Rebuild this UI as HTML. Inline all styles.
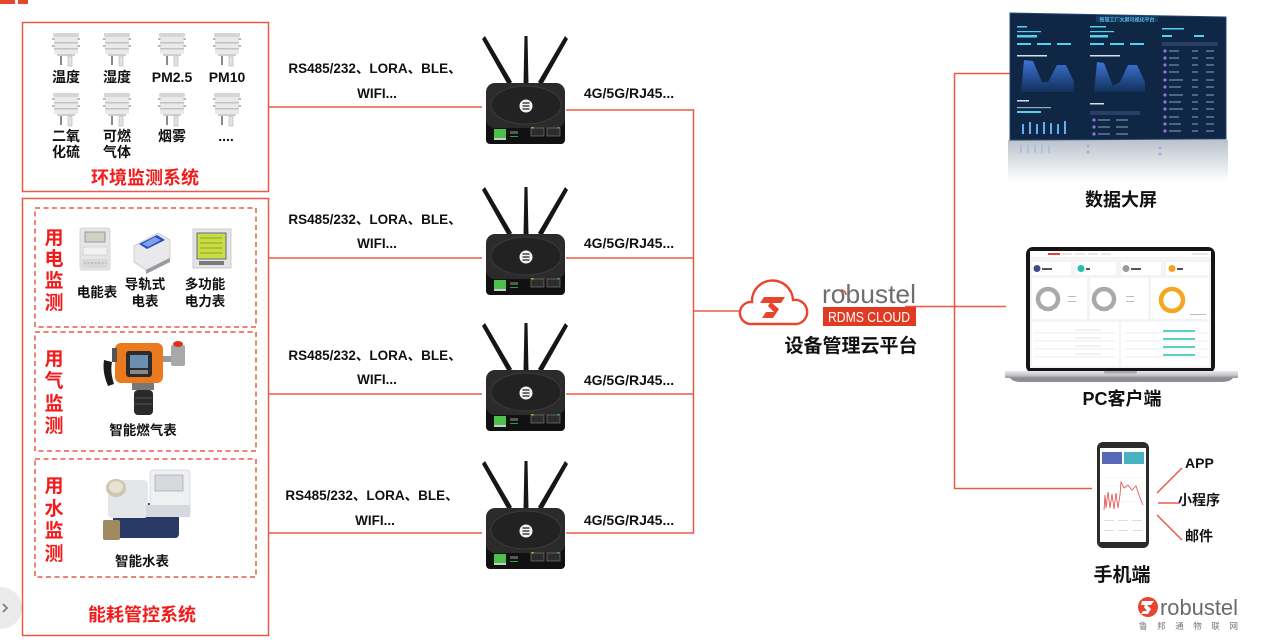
<!DOCTYPE html>
<html><head><meta charset="utf-8"><style>
html,body{margin:0;padding:0;background:#fff;width:1268px;height:640px;overflow:hidden;}
svg{display:block;}
text{font-family:"Liberation Sans","Noto Sans CJK SC",sans-serif;font-weight:bold;}
.k{fill:#111;font-size:14px;}
.r{fill:#f21a1a;font-size:18px;}
.v{fill:#f21a1a;font-size:19px;}
.lbl{fill:#111;font-size:13.5px;}
.big{fill:#111;font-size:18px;}
</style></head><body>
<svg width="1268" height="640" viewBox="0 0 1268 640" xmlns="http://www.w3.org/2000/svg">
<defs>
 <g id="sensor">
  <rect x="-13" y="0" width="26" height="4" rx="1" fill="#d6d6d6"/>
  <rect x="-12" y="4" width="24" height="17" fill="#e9e9e9"/>
  <rect x="-12" y="9" width="24" height="1.5" fill="#c2c2c2"/>
  <rect x="-12" y="15" width="24" height="1.5" fill="#c2c2c2"/>
  <rect x="-14" y="5" width="2.5" height="2" fill="#b8b8b8"/>
  <rect x="11.5" y="5" width="2.5" height="2" fill="#b8b8b8"/>
  <rect x="-14" y="12" width="2.5" height="2" fill="#b8b8b8"/>
  <rect x="11.5" y="12" width="2.5" height="2" fill="#b8b8b8"/>
  <rect x="-9" y="21" width="18" height="2" fill="#cfcfcf"/>
  <rect x="-6" y="23" width="2" height="9" fill="#8a8a8a"/>
  <rect x="2" y="23" width="4" height="10" fill="#e2e2e2" stroke="#b5b5b5" stroke-width="0.6"/>
 </g>
 <g id="router">
  <polygon points="0,3 3,0 30,46 26,49" fill="#161616"/>
  <polygon points="42.5,0 45.5,0 46.5,48 41.5,48" fill="#161616"/>
  <polygon points="83,0 86,3 60,49 56,46" fill="#161616"/>
  <rect x="4" y="80" width="79" height="28" rx="4" fill="#111"/>
  <rect x="4" y="47" width="79" height="45" rx="9" fill="#2b2b2b"/>
  <ellipse cx="44" cy="69" rx="35" ry="19" fill="#222" stroke="#3b3b3b" stroke-width="1"/>
  <circle cx="44" cy="70" r="6.5" fill="#f4f4f4"/>
  <path d="M40.5 67 h7 M40.5 70 h7 M40.5 73 h7" stroke="#222" stroke-width="1.2"/>
  <rect x="12" y="93" width="12" height="9" fill="#4cc04a"/>
  <rect x="12" y="102" width="12" height="2" fill="#ccc"/>
  <rect x="28" y="95" width="8" height="3" fill="#555"/>
  <rect x="28" y="100" width="8" height="1" fill="#3a9a3a"/>
  <rect x="49" y="92" width="13" height="8" fill="#2c2c2c" stroke="#777" stroke-width="0.7"/>
  <rect x="65" y="92" width="13" height="8" fill="#2c2c2c" stroke="#777" stroke-width="0.7"/>
  <rect x="49.5" y="91" width="2" height="1.5" fill="#d6c020"/>
  <rect x="75.5" y="91" width="2" height="1.5" fill="#3fc040"/>
 </g>
 <linearGradient id="refl" x1="0" y1="0" x2="0" y2="1">
  <stop offset="0" stop-color="#a9b3bf"/><stop offset="1" stop-color="#ffffff"/>
 </linearGradient>
 <linearGradient id="area" x1="0" y1="0" x2="0" y2="1">
  <stop offset="0" stop-color="#3d74d6"/><stop offset="1" stop-color="#11305a"/>
 </linearGradient>
 <linearGradient id="base" x1="0" y1="0" x2="0" y2="1">
  <stop offset="0" stop-color="#e8e8ea"/><stop offset="0.6" stop-color="#c5c6c9"/><stop offset="1" stop-color="#8e8f93"/>
 </linearGradient>
</defs>

<!-- top-left red mark -->
<rect x="0" y="0" width="15" height="4" fill="#e8452e"/>
<rect x="18" y="0" width="10" height="4" fill="#e8452e"/>

<!-- left gray nav circle -->
<circle cx="1" cy="608" r="21" fill="#ebebeb"/>
<path d="M3 604 l4 4 l-4 4" stroke="#777" stroke-width="1.6" fill="none"/>

<!-- env box -->
<rect x="22.5" y="22.5" width="246" height="169" fill="none" stroke="#e95b45" stroke-width="1.5"/>
<use href="#sensor" x="66" y="33"/>
<use href="#sensor" x="117" y="33"/>
<use href="#sensor" x="172" y="33"/>
<use href="#sensor" x="227" y="33"/>
<use href="#sensor" x="66" y="93"/>
<use href="#sensor" x="117" y="93"/>
<use href="#sensor" x="172" y="93"/>
<use href="#sensor" x="227" y="93"/>
<g class="k" text-anchor="middle">
 <text x="66" y="82">温度</text>
 <text x="117" y="82">湿度</text>
 <text x="172" y="82">PM2.5</text>
 <text x="227" y="82">PM10</text>
 <text x="66" y="141">二氧</text>
 <text x="66" y="157">化硫</text>
 <text x="117" y="141">可燃</text>
 <text x="117" y="157">气体</text>
 <text x="172" y="141">烟雾</text>
 <text x="226" y="141">....</text>
</g>
<text class="r" x="145" y="184" text-anchor="middle">环境监测系统</text>

<!-- energy box -->
<rect x="22.5" y="198.5" width="246" height="437" fill="none" stroke="#e95b45" stroke-width="1.5"/>
<g fill="none" stroke="#e95b45" stroke-width="1.5" stroke-dasharray="5,3.5">
 <rect x="35" y="208" width="221" height="119"/>
 <rect x="35" y="332" width="221" height="119"/>
 <rect x="35" y="459" width="221" height="118"/>
</g>
<g class="v" text-anchor="middle">
 <text x="54" y="244">用</text><text x="54" y="265">电</text><text x="54" y="287">监</text><text x="54" y="309">测</text>
 <text x="54" y="365">用</text><text x="54" y="387">气</text><text x="54" y="410">监</text><text x="54" y="432">测</text>
 <text x="54" y="492">用</text><text x="54" y="515">水</text><text x="54" y="537">监</text><text x="54" y="560">测</text>
</g>
<!-- electric meter -->
<rect x="80" y="228" width="30" height="42" rx="2" fill="#e6e6e6" stroke="#cfcfcf" stroke-width="0.8"/>
<rect x="85" y="232" width="20" height="10" fill="#cdd4c6" stroke="#8a8a8a" stroke-width="0.8"/>
<rect x="83" y="247" width="24" height="8" fill="#f2f2f2" stroke="#bbb" stroke-width="0.5"/>
<rect x="82" y="259" width="26" height="9" fill="#d8d8d8"/>
<path d="M84 263 h22" stroke="#aaa" stroke-width="1" stroke-dasharray="2,1.5"/>
<!-- rail meter -->
<polygon points="134,246 158,233 170,240 170,258 146,270 134,262" fill="#e9e9ec" stroke="#c8c8cc" stroke-width="0.8"/>
<polygon points="139,244 157,235 165,240 147,249" fill="#2a48c8"/>
<polygon points="142,244 155,237 161,240 148,247" fill="#7da0e8"/>
<polygon points="146,270 170,258 170,262 146,274" fill="#9a9aa0"/>
<!-- multifunction meter -->
<rect x="193" y="229" width="38" height="39" fill="#e4e4e4" stroke="#c4c4c4" stroke-width="0.8"/>
<rect x="197" y="233" width="29" height="26" fill="#c9dc40" stroke="#5a6a9a" stroke-width="1"/>
<path d="M200 238 h22 M200 243 h22 M200 248 h22 M200 253 h22" stroke="#7a8a30" stroke-width="0.8"/>
<rect x="199" y="261" width="25" height="4" fill="#7a7a7a"/>
<g class="lbl" text-anchor="middle">
 <text x="97" y="297">电能表</text>
 <text x="145" y="289">导轨式</text>
 <text x="145" y="306">电表</text>
 <text x="205" y="289">多功能</text>
 <text x="205" y="306">电力表</text>
 <text x="143" y="435">智能燃气表</text>
 <text x="142" y="566">智能水表</text>
</g>
<!-- gas detector -->
<path d="M104 360 q-2 12 4 26 l6 -2 q-4 -12 -2 -22 z" fill="#1a1a1a"/>
<rect x="115" y="343" width="48" height="40" rx="6" fill="#ea7a1e"/>
<rect x="112" y="348" width="5" height="14" fill="#555"/>
<rect x="126" y="351" width="26" height="26" rx="3" fill="#2c2c2c"/>
<rect x="130" y="355" width="18" height="13" fill="#6a8fb0"/>
<rect x="130" y="370" width="18" height="4" fill="#888"/>
<rect x="163" y="356" width="10" height="6" fill="#999"/>
<rect x="171" y="345" width="14" height="21" rx="2" fill="#a8a8a8"/>
<ellipse cx="178" cy="344" rx="5" ry="3" fill="#e0301e"/>
<rect x="132" y="383" width="22" height="7" fill="#777"/>
<rect x="134" y="390" width="19" height="25" rx="4" fill="#2a2a2a"/>
<path d="M135 398 h17 M135 404 h17" stroke="#555" stroke-width="1"/>
<!-- water meter -->
<rect x="113" y="503" width="66" height="35" rx="4" fill="#2a3a66"/>
<rect x="103" y="520" width="17" height="20" rx="2" fill="#a08a60"/>
<rect x="108" y="480" width="40" height="38" rx="4" fill="#e4e6ea"/>
<rect x="150" y="470" width="40" height="46" rx="3" fill="#eef0f2" stroke="#ccd" stroke-width="0.6"/>
<rect x="155" y="475" width="28" height="16" fill="#d6dadf" stroke="#999" stroke-width="0.6"/>
<rect x="146" y="505" width="44" height="12" fill="#d5d8dd"/>
<ellipse cx="116" cy="488" rx="10" ry="9" fill="#cfc6b0"/>
<ellipse cx="116" cy="487" rx="7" ry="6" fill="#e8e2d2"/>
<text class="r" x="142" y="621" text-anchor="middle">能耗管控系统</text>

<!-- connectors -->
<g stroke="#e95b45" stroke-width="1.5" fill="none">
 <path d="M269 107 H482"/>
 <path d="M269 258 H482"/>
 <path d="M269 394 H482"/>
 <path d="M269 533 H482"/>
 <path d="M566 110 H693.5 V533 H566"/>
 <path d="M566 258 H693"/>
 <path d="M566 394 H693"/>
 <path d="M693 311 H740"/>
 <path d="M905 306.5 H1006"/>
 <path d="M1010 73.5 H954.5 V488.5 H1092"/>
 <path d="M1157 493 L1182 468"/>
 <path d="M1158 503 H1180"/>
 <path d="M1157 515 L1182 540"/>
</g>

<!-- routers -->
<use href="#router" x="482" y="36"/>
<use href="#router" x="482" y="187"/>
<use href="#router" x="482" y="323"/>
<use href="#router" x="482" y="461"/>

<g class="lbl" text-anchor="middle">
 <text x="375" y="73">RS485/232、LORA、BLE、</text>
 <text x="377" y="98">WIFI...</text>
 <text x="375" y="224">RS485/232、LORA、BLE、</text>
 <text x="377" y="248">WIFI...</text>
 <text x="375" y="360">RS485/232、LORA、BLE、</text>
 <text x="377" y="384">WIFI...</text>
 <text x="372" y="500">RS485/232、LORA、BLE、</text>
 <text x="375" y="525">WIFI...</text>
</g>
<g class="k" text-anchor="middle">
 <text x="629" y="98">4G/5G/RJ45...</text>
 <text x="629" y="248">4G/5G/RJ45...</text>
 <text x="629" y="385">4G/5G/RJ45...</text>
 <text x="629" y="525">4G/5G/RJ45...</text>
</g>

<!-- cloud -->
<path d="M750 324 A11 11 0 0 1 752 302 A19.5 19.5 0 0 1 793 300 A12 12 0 0 1 797 324 Z" fill="#fff" stroke="#e8442e" stroke-width="2.4"/>
<polygon points="764,297 785,297 781,303 772,303 779,309 773,318 762,318 766,312 774,312 768,306 770,303 760,303" fill="#e8442e"/>
<text x="822" y="303" font-size="26" style="font-weight:normal" fill="#6e6e6e" textLength="94" lengthAdjust="spacingAndGlyphs">robustel</text>
<path d="M841 290 a5 5 0 0 1 5 5" stroke="#e8442e" stroke-width="1.5" fill="none"/>
<rect x="823" y="307" width="93" height="19" fill="#e03a22"/>
<text x="828" y="322" font-size="15" style="font-weight:normal" fill="#fff" textLength="82" lengthAdjust="spacingAndGlyphs">RDMS  CLOUD</text>
<text x="851" y="352" font-size="19" fill="#111" text-anchor="middle">设备管理云平台</text>

<!-- data screen -->
<rect x="1008" y="140" width="220" height="42" fill="url(#refl)" opacity="0.8"/>
<g opacity="0.45">
 <rect x="1020" y="145" width="2" height="8" fill="#8fb0e0"/><rect x="1027" y="145" width="2" height="8" fill="#8fb0e0"/><rect x="1034" y="145" width="2" height="8" fill="#8fb0e0"/><rect x="1041" y="145" width="2" height="8" fill="#8fb0e0"/><rect x="1048" y="145" width="2" height="8" fill="#8fb0e0"/>
 <circle cx="1088" cy="146" r="1.5" fill="#9a70e0"/><circle cx="1088" cy="152" r="1.5" fill="#9a70e0"/><circle cx="1160" cy="148" r="1.5" fill="#9a70e0"/><circle cx="1160" cy="154" r="1.5" fill="#9a70e0"/>
</g>
<polygon points="1010,13 1226,17 1226,139 1010,140" fill="#0f2745" stroke="#23476e" stroke-width="1"/>
<rect x="1096" y="16" width="62" height="6" fill="#173d66"/>
<text x="1127" y="21.5" font-size="5" fill="#6fe0ff" text-anchor="middle" style="font-weight:normal">智慧工厂大屏可视化平台</text>
<g fill="#4fd3f0">
 <rect x="1017" y="26" width="10" height="1.5"/><rect x="1017" y="31" width="24" height="1.2"/><rect x="1017" y="35" width="20" height="2.5"/>
 <rect x="1017" y="43" width="14" height="2"/><rect x="1037" y="43" width="14" height="2"/><rect x="1057" y="43" width="14" height="2"/>
 <rect x="1090" y="26" width="16" height="1.5"/><rect x="1090" y="31" width="24" height="1.2"/><rect x="1090" y="35" width="18" height="2.5"/>
 <rect x="1090" y="43" width="14" height="2"/><rect x="1110" y="43" width="14" height="2"/><rect x="1130" y="43" width="14" height="2"/>
 <rect x="1162" y="28" width="22" height="1.5"/><rect x="1162" y="35" width="10" height="2"/><rect x="1194" y="35" width="10" height="2"/>
</g>
<rect x="1017" y="55" width="30" height="1.5" fill="#d0e0f0"/>
<rect x="1090" y="55" width="30" height="1.5" fill="#d0e0f0"/>
<polygon points="1021,92 1024,60 1033,61 1042,82 1048,82 1057,65 1066,65 1074,82 1074,92" fill="url(#area)"/>
<polygon points="1094,92 1097,62 1104,63 1113,86 1120,82 1128,65 1137,65 1145,82 1145,92" fill="url(#area)"/>
<rect x="1017" y="100" width="12" height="1.5" fill="#d0e0f0"/>
<rect x="1017" y="107" width="34" height="1.2" fill="#9ab"/>
<rect x="1017" y="111" width="24" height="2" fill="#4fd3f0"/>
<g fill="#5fb0f0">
 <rect x="1022" y="124" width="2" height="10"/><rect x="1029" y="122" width="2" height="12"/><rect x="1036" y="124" width="2" height="10"/><rect x="1043" y="122" width="2" height="12"/><rect x="1050" y="123" width="2" height="11"/><rect x="1057" y="124" width="2" height="10"/><rect x="1064" y="121" width="2" height="13"/>
</g>
<rect x="1090" y="103" width="14" height="1.5" fill="#d0e0f0"/>
<rect x="1090" y="111" width="50" height="4" fill="#2b3f66"/>
<g fill="#9a70e0">
 <circle cx="1094" cy="120" r="1.6"/><circle cx="1094" cy="127" r="1.6"/><circle cx="1094" cy="134" r="1.6"/>
</g>
<g fill="#8fa5c0">
 <rect x="1098" y="119.5" width="12" height="1"/><rect x="1116" y="119.5" width="12" height="1"/><rect x="1098" y="126.5" width="12" height="1"/><rect x="1116" y="126.5" width="12" height="1"/><rect x="1098" y="133.5" width="12" height="1"/><rect x="1116" y="133.5" width="12" height="1"/>
</g>
<rect x="1162" y="42" width="56" height="4" fill="#2b3f66"/>
<g fill="#9a70e0">
 <circle cx="1165" cy="51" r="1.6"/><circle cx="1165" cy="58" r="1.6"/><circle cx="1165" cy="65" r="1.6"/><circle cx="1165" cy="72" r="1.6"/><circle cx="1165" cy="80" r="1.6"/><circle cx="1165" cy="87" r="1.6"/><circle cx="1165" cy="95" r="1.6"/><circle cx="1165" cy="102" r="1.6"/><circle cx="1165" cy="109" r="1.6"/><circle cx="1165" cy="117" r="1.6"/><circle cx="1165" cy="124" r="1.6"/><circle cx="1165" cy="131" r="1.6"/>
</g>
<g stroke="#8fa5c0" stroke-width="1">
 <path d="M1169 51h10M1192 51h6M1206 51h8M1169 58h10M1192 58h6M1206 58h8M1169 65h10M1192 65h6M1206 65h8M1169 72h10M1192 72h6M1206 72h8M1169 80h14M1192 80h6M1206 80h8M1169 87h12M1192 87h6M1206 87h8M1169 95h14M1192 95h6M1206 95h8M1169 102h12M1192 102h6M1206 102h8M1169 109h14M1192 109h6M1206 109h8M1169 117h10M1192 117h6M1206 117h8M1169 124h12M1192 124h6M1206 124h8M1169 131h12M1192 131h6M1206 131h8"/>
</g>
<text class="big" x="1121" y="206" text-anchor="middle">数据大屏</text>

<!-- laptop -->
<rect x="1026" y="247" width="189" height="126" rx="7" fill="#151515"/>
<rect x="1030" y="251" width="181" height="117" fill="#f3f4f6"/>
<rect x="1030" y="251" width="181" height="6" fill="#fff"/>
<rect x="1048" y="253" width="12" height="2" fill="#e04040"/>
<g fill="#ccc"><rect x="1062" y="253.5" width="10" height="1"/><rect x="1075" y="253.5" width="10" height="1"/><rect x="1088" y="253.5" width="10" height="1"/><rect x="1101" y="253.5" width="10" height="1"/><rect x="1192" y="253.5" width="16" height="1"/></g>
<g fill="#fff">
 <rect x="1032" y="262" width="39" height="13"/><rect x="1076" y="262" width="40" height="13"/><rect x="1121" y="262" width="40" height="13"/><rect x="1166" y="262" width="43" height="13"/>
 <rect x="1032" y="278" width="55" height="41"/><rect x="1090" y="278" width="58" height="41"/><rect x="1151" y="278" width="58" height="41"/>
 <rect x="1032" y="322" width="87" height="44"/><rect x="1121" y="322" width="88" height="44"/>
</g>
<circle cx="1037" cy="268.5" r="3.5" fill="#3b4a8a"/>
<circle cx="1081" cy="268.5" r="3.5" fill="#1fc0b0"/>
<circle cx="1126" cy="268.5" r="3.5" fill="#9a9a9a"/>
<circle cx="1172" cy="268.5" r="3.5" fill="#f5a020"/>
<g fill="#555"><rect x="1042" y="268" width="10" height="2"/><rect x="1086" y="268" width="4" height="2"/><rect x="1131" y="268" width="10" height="2"/><rect x="1177" y="268" width="6" height="2"/></g>
<circle cx="1048" cy="299" r="10" fill="none" stroke="#a9a9a9" stroke-width="4.5"/>
<circle cx="1104" cy="299" r="10" fill="none" stroke="#a9a9a9" stroke-width="4.5"/>
<circle cx="1172" cy="300" r="11" fill="none" stroke="#f5a623" stroke-width="4.5"/>
<g fill="#bbb"><rect x="1068" y="296" width="8" height="1"/><rect x="1068" y="301" width="8" height="1"/><rect x="1126" y="296" width="8" height="1"/><rect x="1126" y="301" width="8" height="1"/><rect x="1190" y="314" width="16" height="1"/></g>
<g stroke="#e8e8e8" stroke-width="0.7"><path d="M1034 333h83M1034 341h83M1034 349h83M1034 357h83M1123 333h84M1123 341h84M1123 349h84M1123 357h84"/></g>
<g stroke="#dfe3ee" stroke-width="1"><path d="M1075 330h26M1075 338h26M1075 346h26M1075 354h26"/></g>
<g stroke="#22c4b0" stroke-width="1.6"><path d="M1163 331h32M1163 339h32M1163 347h32M1163 355h32"/></g>
<rect x="1005" y="371" width="233" height="7" rx="1" fill="url(#base)"/>
<path d="M1010 378 H1233 Q1230 382 1222 382 H1021 Q1013 382 1010 378 Z" fill="#8d8e92"/>
<rect x="1104" y="371" width="33" height="2.5" rx="1" fill="#a9aaad"/>
<text class="big" x="1122" y="405" text-anchor="middle">PC客户端</text>

<!-- phone -->
<rect x="1097" y="442" width="52" height="106" rx="6" fill="#2b2b2b"/>
<rect x="1100" y="448" width="46" height="94" fill="#fff"/>
<rect x="1102" y="452" width="20" height="12" fill="#5868b8"/>
<rect x="1124" y="452" width="20" height="12" fill="#46b2c2"/>
<g stroke="#eee" stroke-width="0.6"><path d="M1104 478h40M1104 486h40M1104 494h40M1104 502h40"/></g>
<path d="M1104 510 L1105 495 L1106 508 L1108 492 L1110 508 L1112 494 L1114 509 L1116 493 L1118 508 L1120 495 L1121 482 L1124 488 L1128 485 L1132 490 L1136 486 L1140 498 L1143 505" stroke="#e04a4a" stroke-width="0.8" fill="none"/>
<g fill="#ddd"><rect x="1104" y="520" width="10" height="1"/><rect x="1118" y="520" width="10" height="1"/><rect x="1132" y="520" width="10" height="1"/><rect x="1104" y="530" width="10" height="1"/><rect x="1118" y="530" width="10" height="1"/><rect x="1132" y="530" width="10" height="1"/></g>
<text class="k" x="1185" y="468">APP</text>
<text class="k" x="1178" y="505">小程序</text>
<text class="k" x="1185" y="541">邮件</text>
<text x="1122" y="581" font-size="19" fill="#111" text-anchor="middle">手机端</text>

<!-- bottom logo -->
<circle cx="1148" cy="607" r="10" fill="#e8442e"/>
<polygon points="1142,601 1154,601 1151,605 1147,605 1151,609 1148,614 1141,614 1143,611 1147,611 1144,607 1145,605 1141,605" fill="#fff"/>
<text x="1160" y="615" font-size="22" style="font-weight:normal" fill="#6a6a6a" textLength="78" lengthAdjust="spacingAndGlyphs">robustel</text>
<text x="1139" y="629" font-size="8.5" style="font-weight:normal" fill="#777" textLength="99" lengthAdjust="spacing">鲁 邦 通 物 联 网</text>
</svg>
</body></html>
